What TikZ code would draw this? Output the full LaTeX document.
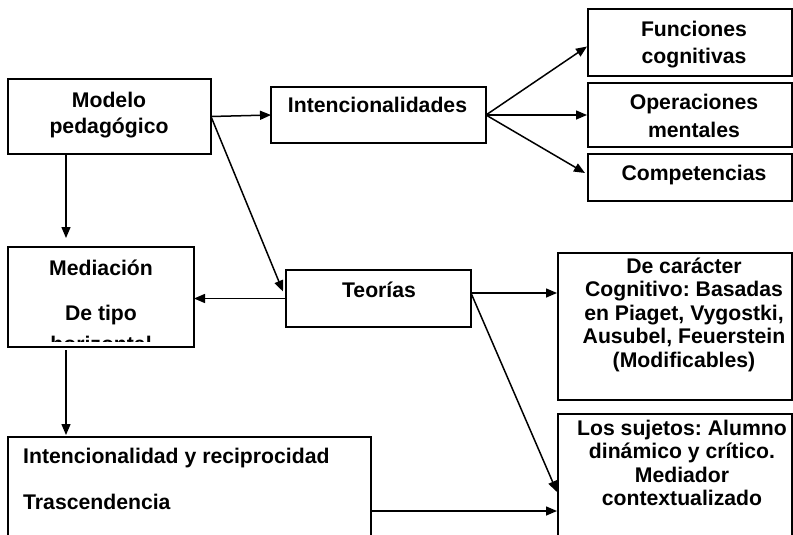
\documentclass[tikz,border=0pt]{standalone}
\usepackage{fontspec}
\setmainfont{Liberation Sans}
\usetikzlibrary{arrows.meta,calc}
\frenchspacing
\begin{document}
\begin{tikzpicture}[x=1pt,y=-1pt,
  box/.style={draw=black, line width=1.8pt, inner sep=0pt, outer sep=0pt},
  txt/.style={font=\bfseries\fontsize{21.2}{24}\selectfont, inner sep=0pt, anchor=base},
  arr/.style={draw=black, line width=1.5pt, -{Triangle[length=11pt,width=9pt]}}]
\clip (0,0) rectangle (793,535);
\fill[white] (0,0) rectangle (793,535);
% boxes
\node[box, minimum width=203pt, minimum height=75pt] (modelo) at (109.5,116.5) {};
\node[box, minimum width=215pt, minimum height=56pt] (intenc) at (378.5,115) {};
\node[box, minimum width=204pt, minimum height=67pt] (funciones) at (690,42.5) {};
\node[box, minimum width=204pt, minimum height=64pt] (operaciones) at (690,115) {};
\node[box, minimum width=204pt, minimum height=47pt] (competencias) at (690,177.5) {};
\node[box, minimum width=186pt, minimum height=100pt] (mediacion) at (101,297) {};
\node[box, minimum width=185pt, minimum height=57pt] (teorias) at (378.5,298.5) {};
\node[box, minimum width=234pt, minimum height=147pt] (decar) at (675,326.5) {};
\node[box, minimum width=234pt, minimum height=146pt] (sujetos) at (675,487) {};
\node[box, minimum width=363pt, minimum height=123pt] (intencional) at (189.5,498.5) {};
% texts
\node[txt] (tmod1) at (109,107) {Modelo};
\node[txt] (tmod2) at (109,133) {pedagógico};
\node[txt] (tint) at (377.5,113) {Intencionalidades};
\node[txt] (tfun1) at (694,37) {Funciones};
\node[txt] (tfun2) at (694,64) {cognitivas};
\node[txt] (tope1) at (694,110) {Operaciones};
\node[txt] (tope2) at (694,137) {mentales};
\node[txt] (tcom) at (694,180) {Competencias};
\node[txt] (tmed1) at (101,275) {Mediación};
\node[txt] (tmed2) at (101,320) {De tipo};
\begin{scope}
  \clip (8,247) rectangle (194,341);
  \node[txt] (tmed3) at (101,351) {horizontal};
\end{scope}
\node[txt] (tteo) at (379,297) {Teorías};
\node[txt] (tdc1) at (684,273) {De carácter};
\node[txt] (tdc2) at (684,296.5) {Cognitivo: Basadas};
\node[txt] (tdc3) at (684,320) {en Piaget, Vygostki,};
\node[txt] (tdc4) at (684,343.5) {Ausubel, Feuerstein};
\node[txt] (tdc5) at (684,367) {(Modificables)};
\node[txt] (tsu1) at (682,435) {Los sujetos: Alumno};
\node[txt] (tsu2) at (682,458.5) {dinámico y crítico.};
\node[txt] (tsu3) at (682,482) {Mediador};
\node[txt] (tsu4) at (682,505.5) {contextualizado};
\node[txt, anchor=base west] (tir1) at (23,463) {Intencionalidad y reciprocidad};
\node[txt, anchor=base west] (tir2) at (23,509) {Trascendencia};
% connectors
\coordinate (mx) at (66,0);
\draw[arr] (modelo.east) -- (intenc.west);
\draw[arr] (modelo.east) -- ($(teorias.west)+(-3,-7)$);
\draw[arr] (teorias.west) -- (teorias.west -| mediacion.east);
\draw[arr] (modelo.south -| mx) -- ($(mediacion.north -| mx)+(0,-9)$);
\draw[arr] ($(mediacion.south -| mx)+(0,3)$) -- ($(intencional.north -| mx)+(0,-2)$);
\draw[arr] (intenc.east) -- ($(funciones.west)+(-1,4)$);
\draw[arr] (intenc.east) -- ($(operaciones.west)+(-1,0)$);
\draw[arr] (intenc.east) -- ($(competencias.west)+(-3,-4.5)$);
\coordinate (tfan) at ($(teorias.east)+(0,-5.5)$);
\draw[arr] (tfan) -- ($(tfan -| decar.west)+(-1,0)$);
\draw[arr] (tfan) -- ($(sujetos.west)+(-1,5)$);
\coordinate (ib) at ($(intencional.east)+(0,12.5)$);
\draw[arr] (ib) -- ($(ib -| sujetos.west)+(-1,0)$);
\end{tikzpicture}
\end{document}
